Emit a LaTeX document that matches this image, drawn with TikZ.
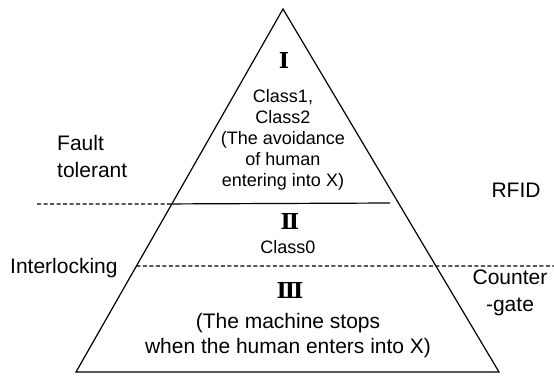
\documentclass[tikz,border=0pt]{standalone}
\usepackage{fontspec}
\setmainfont{Liberation Sans}
\newfontfamily\romanfont{DejaVu Serif}
\usetikzlibrary{calc}

\begin{document}
\begin{tikzpicture}[x=1pt, y=-1pt,
    edge/.style={draw=black, line width=1.2pt},
    divider/.style={draw=black, line width=1.2pt, dash pattern=on 4pt off 2.5pt},
    sidelabel/.style={inner sep=0pt, font=\fontsize{21}{27}\selectfont},
    numeral/.style={inner sep=0pt, font=\romanfont\bfseries\fontsize{22}{22}\selectfont},
    levelone/.style={inner sep=0pt, align=center, font=\fontsize{18}{21}\selectfont},
    levelthree/.style={inner sep=0pt, align=center, font=\fontsize{21}{25}\selectfont}
]
\useasboundingbox (0,0) rectangle (554,376);

% Pyramid corners
\coordinate (apex) at (283,9);
\coordinate (bl) at (76,372);
\coordinate (br) at (499,372);
\draw[edge] (apex) -- (bl) -- (br) -- cycle;

% Level borders
\coordinate (upperleft) at ($(apex)!0.537!(bl)$);
\coordinate (upperend) at (390,203);
\coordinate (upperfree) at (37,204);
\coordinate (lowerleft) at ($(apex)!0.708!(bl)$);
\coordinate (lowerfree) at (554,266);
\draw[divider] (upperfree) -- (upperleft);
\draw[edge] (upperleft) -- (upperend);
\draw[divider] (lowerleft) -- (lowerfree);

% Level I
\node[numeral] (numone) at (284,60) {Ⅰ};
\node[levelone] (textone) at (283,140) {Class1,\\Class2\\(The avoidance\\of human\\entering into X)};

% Level II
\node[numeral] (numtwo) at (290,221) {Ⅱ};
\node[levelone] (texttwo) at (288,247) {Class0};

% Level III
\node[numeral] (numthree) at (290,290) {Ⅲ};
\node[levelthree] (textthree) at (288,336) {(The machine stops\\when the human enters into X)};

% Side labels
\node[sidelabel, align=left, anchor=west] (fault) at (57,156) {Fault\\tolerant};
\node[sidelabel] (rfid) at (516,190) {RFID};
\node[sidelabel, anchor=west] (interlock) at (10,268) {Interlocking};
\node[sidelabel, align=center] (counter) at (510,293) {Counter\\-gate};

\end{tikzpicture}
\end{document}
